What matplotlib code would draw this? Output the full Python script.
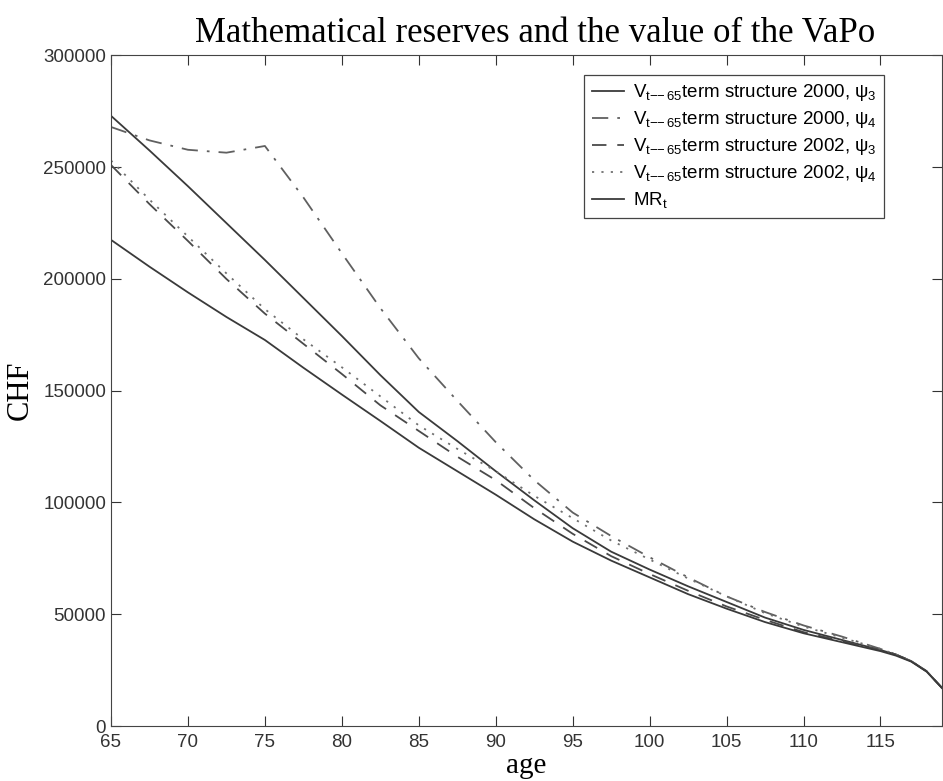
import numpy as np
import matplotlib
matplotlib.use("Agg")
import matplotlib.pyplot as plt

plt.rcParams['font.family'] = ['Liberation Sans', 'DejaVu Sans']
plt.rcParams['mathtext.default'] = 'regular'

age = [65, 67.5, 70, 72.5, 75, 77.5, 80, 82.5, 85, 87.5, 90, 92.5, 95, 97.5,
       100, 102.5, 105, 107.5, 110, 112.5, 115, 116, 117, 118, 119]

v2000_psi3 = [273000, 257500, 241500, 225000, 208500, 191500, 174500, 157000,
              140500, 127500, 114000, 101000, 88500, 78000, 70000, 62500,
              55500, 48500, 43000, 38500, 34000, 32000, 29000, 24500, 17000]
v2000_psi4 = [268000, 262000, 257800, 256500, 259500, 236500, 211500, 187000,
              164500, 145500, 127000, 110000, 95500, 85000, 75500, 66500,
              58000, 51000, 45000, 40000, 34500, 32000, 29000, 24500, 17000]
v2002_psi3 = [251000, 233500, 217000, 200000, 184500, 171000, 157500, 143500,
              132000, 120500, 110000, 97500, 86000, 76000, 68000, 60500,
              53500, 47500, 42000, 38000, 34000, 32000, 29000, 24500, 17000]
v2002_psi4 = [253000, 235500, 219000, 202500, 186500, 173000, 160500, 147500,
              134500, 124000, 114000, 103000, 93000, 83000, 74500, 66000,
              58000, 50500, 44500, 39500, 34500, 32000, 29000, 24500, 17000]
mr = [217500, 205500, 194000, 183000, 172700, 160300, 148300, 136500,
      124500, 114000, 103500, 92500, 82500, 74000, 66500, 59000,
      52500, 46500, 41500, 37500, 33500, 31500, 28800, 24300, 17000]

labels = [r'V$_{t\!-\!\!\!-65}$term structure 2000, $\psi_3$',
          r'V$_{t\!-\!\!\!-65}$term structure 2000, $\psi_4$',
          r'V$_{t\!-\!\!\!-65}$term structure 2002, $\psi_3$',
          r'V$_{t\!-\!\!\!-65}$term structure 2002, $\psi_4$',
          r'MR$_t$']

fig = plt.figure(figsize=(9.43, 7.81), dpi=100)
ax = fig.add_axes([0.1177, 0.0704, 0.8813, 0.8586])

ax.plot(age, v2000_psi3, color='#3a3a3a', lw=1.3, label=labels[0])
ax.plot(age, v2000_psi4, color='#606060', lw=1.3, dashes=(9, 5, 1.5, 5), label=labels[1])
ax.plot(age, v2002_psi3, color='#4a4a4a', lw=1.3, dashes=(8, 6), label=labels[2])
ax.plot(age, v2002_psi4, color='#707070', lw=1.3, dashes=(1.2, 4), label=labels[3])
ax.plot(age, mr, color='#3a3a3a', lw=1.3, label=labels[4])

ax.set_xlim(65, 119)
ax.set_ylim(0, 300000)
ax.set_xticks(range(65, 116, 5))
ax.set_yticks(range(0, 300001, 50000))
ax.tick_params(direction='in', top=True, right=True, length=7, labelsize=13.5, colors='#333333')
ax.tick_params(axis='x', pad=6)
for s in ax.spines.values():
    s.set_color('#444444')

ax.set_title('Mathematical reserves and the value of the VaPo',
             family='Liberation Serif', fontsize=25, pad=10, x=0.51)
ax.set_xlabel('age', family='Liberation Serif', fontsize=21, labelpad=1)
ax.set_ylabel('CHF', family='Liberation Serif', fontsize=22, labelpad=6)

leg = ax.legend(loc='upper right', bbox_to_anchor=(0.942, 0.985), fontsize=13.5,
                handlelength=1.7, handletextpad=0.5, labelspacing=0.32, borderpad=0.4,
                fancybox=False, edgecolor='#444444', framealpha=1)
leg.get_frame().set_linewidth(0.9)

fig.savefig('out.png', dpi=100)
